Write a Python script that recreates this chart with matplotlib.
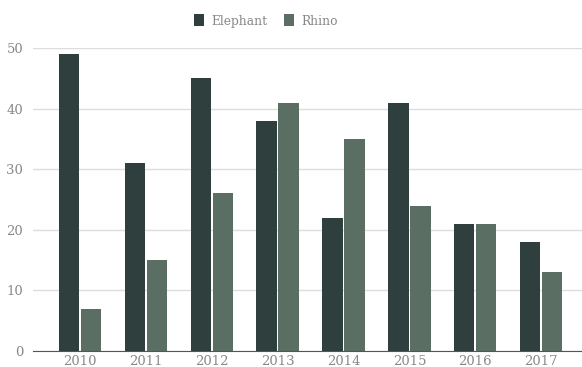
import numpy as np
import matplotlib
matplotlib.use('Agg')
import matplotlib.pyplot as plt

years = ['2010', '2011', '2012', '2013', '2014', '2015', '2016', '2017']
elephant = [49, 31, 45, 38, 22, 41, 21, 18]
rhino = [7, 15, 26, 41, 35, 24, 21, 13]

plt.rcParams['font.family'] = ['DejaVu Serif']

fig = plt.figure(figsize=(5.82, 3.67), dpi=100)
ax = fig.add_axes([33 / 582, 16 / 367, 549 / 582, 303 / 367])

x = np.arange(len(years))
w = 0.31
gap = 0.012
ax.bar(x - w / 2 - gap, elephant, w, color='#2f3f3d', label='Elephant', zorder=3)
ax.bar(x + w / 2 + gap, rhino, w, color='#5b6e63', label='Rhino', zorder=3)

ax.set_xlim(-0.714, 7.62)
ax.set_ylim(0, 50)
ax.set_yticks([0, 10, 20, 30, 40, 50])
ax.set_xticks(x)
ax.set_xticklabels(years)
ax.yaxis.grid(True, color='#dddddd', linewidth=1, zorder=0)
for s in ['top', 'right', 'left']:
    ax.spines[s].set_visible(False)
ax.spines['bottom'].set_color('#555555')
ax.tick_params(axis='y', length=0, labelsize=9.5, labelcolor='#888888', pad=7)
ax.tick_params(axis='x', length=0, labelsize=9.5, labelcolor='#888888', pad=3)

leg = fig.legend(loc='center', bbox_to_anchor=(266 / 582, 1 - 21 / 367), ncol=2, frameon=False,
                 fontsize=8.8, handlelength=0.85, handleheight=1.1, columnspacing=1.3,
                 handletextpad=0.6)
for t in leg.get_texts():
    t.set_color('#888888')

fig.savefig('out.png', dpi=100)
